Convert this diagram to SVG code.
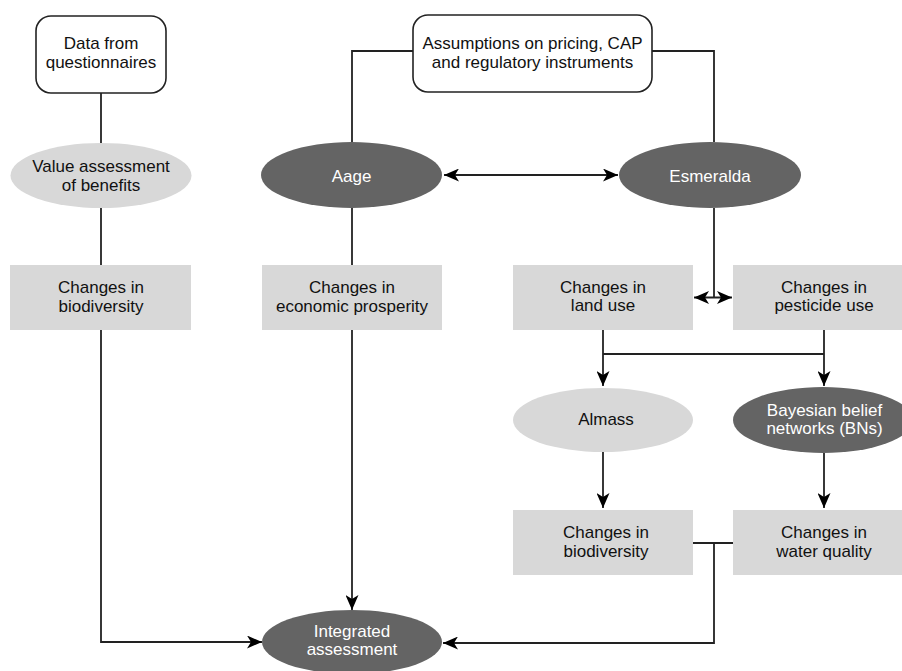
<svg xmlns="http://www.w3.org/2000/svg" width="902" height="671" viewBox="0 0 902 671">
<style>
.t{font-family:"Liberation Sans",Arial,sans-serif;font-size:17px;text-anchor:middle;fill:#111}
.w{fill:#fff}
.box{fill:#fff;stroke:#222;stroke-width:1.6}
.lt{fill:#d8d8d8}
.dk{fill:#646464}
.ln{fill:none;stroke:#222;stroke-width:1.8}
</style>
<defs>
<marker id="ah" viewBox="0 0 15 13" refX="15" refY="6.5" markerWidth="15" markerHeight="13" markerUnits="userSpaceOnUse" orient="auto-start-reverse">
<path d="M0,0 L15,6.5 L0,13 L4,6.5 z" fill="#000"/>
</marker>
</defs>
<rect width="902" height="671" fill="#fff"/>
<g id="connectors">
<path class="ln" d="M101,93 V143"/>
<path class="ln" d="M101,208 V265"/>
<path class="ln" d="M101,330 V642 H262" marker-end="url(#ah)"/>
<path class="ln" d="M413,51 H352 V142"/>
<path class="ln" d="M652,51 H714 V142"/>
<path class="ln" d="M352,208 V265"/>
<path class="ln" d="M352,330 V610" marker-end="url(#ah)"/>
<path class="ln" d="M444,175 H618" marker-start="url(#ah)" marker-end="url(#ah)"/>
<path class="ln" d="M714,208 V297.5"/>
<path class="ln" d="M694,297.5 H732" marker-start="url(#ah)" marker-end="url(#ah)"/>
<path class="ln" d="M603,330 V386" marker-end="url(#ah)"/>
<path class="ln" d="M824,330 V386" marker-end="url(#ah)"/>
<path class="ln" d="M603,354 H824"/>
<path class="ln" d="M603,452 V508" marker-end="url(#ah)"/>
<path class="ln" d="M824,453 V508" marker-end="url(#ah)"/>
<path class="ln" d="M693,543 H733"/>
<path class="ln" d="M714,543 V643 H443" marker-end="url(#ah)"/>
</g>
<g id="data">
<rect class="box" x="36" y="16" width="130" height="77" rx="15"/>
<text class="t" x="101" y="49">Data from</text>
<text class="t" x="101" y="67.5">questionnaires</text>
</g>
<g id="value">
<ellipse class="lt" cx="101" cy="175.5" rx="90.5" ry="32.5"/>
<text class="t" x="101" y="172">Value assessment</text>
<text class="t" x="101" y="190.5">of benefits</text>
</g>
<g id="bio1">
<rect class="lt" x="10" y="265" width="181" height="65"/>
<text class="t" x="101" y="293">Changes in</text>
<text class="t" x="101" y="311.5">biodiversity</text>
</g>
<g id="assumptions">
<rect class="box" x="413" y="15" width="239" height="77" rx="15"/>
<text class="t" x="532.5" y="49">Assumptions on pricing, CAP</text>
<text class="t" x="532.5" y="67.5">and regulatory instruments</text>
</g>
<g id="aage">
<ellipse class="dk" cx="351.5" cy="175" rx="90.5" ry="33"/>
<text class="t w" x="351.5" y="181.5">Aage</text>
</g>
<g id="esmeralda">
<ellipse class="dk" cx="710" cy="175" rx="91" ry="33"/>
<text class="t w" x="710" y="181.5">Esmeralda</text>
</g>
<g id="econ">
<rect class="lt" x="262" y="265" width="180" height="65"/>
<text class="t" x="352" y="293">Changes in</text>
<text class="t" x="352" y="311.5">economic prosperity</text>
</g>
<g id="land">
<rect class="lt" x="513" y="265" width="180" height="65"/>
<text class="t" x="603" y="292.5">Changes in</text>
<text class="t" x="603" y="311">land use</text>
</g>
<g id="pesticide">
<rect class="lt" x="733" y="265" width="180" height="65"/>
<text class="t" x="824" y="292.5">Changes in</text>
<text class="t" x="824" y="311">pesticide use</text>
</g>
<g id="almass">
<ellipse class="lt" cx="603" cy="420" rx="90" ry="32"/>
<text class="t" x="606" y="425">Almass</text>
</g>
<g id="bayesian">
<ellipse class="dk" cx="823" cy="420" rx="90" ry="33"/>
<text class="t w" x="824.5" y="415.5">Bayesian belief</text>
<text class="t w" x="824.5" y="434">networks (BNs)</text>
</g>
<g id="bio2">
<rect class="lt" x="513" y="510" width="180" height="65"/>
<text class="t" x="606" y="538">Changes in</text>
<text class="t" x="606" y="556.5">biodiversity</text>
</g>
<g id="water">
<rect class="lt" x="733" y="510" width="180" height="65"/>
<text class="t" x="824" y="538">Changes in</text>
<text class="t" x="824" y="556.5">water quality</text>
</g>
<g id="integrated">
<ellipse class="dk" cx="352" cy="642" rx="90" ry="32"/>
<text class="t w" x="352" y="636.5">Integrated</text>
<text class="t w" x="352" y="655">assessment</text>
</g>
</svg>
